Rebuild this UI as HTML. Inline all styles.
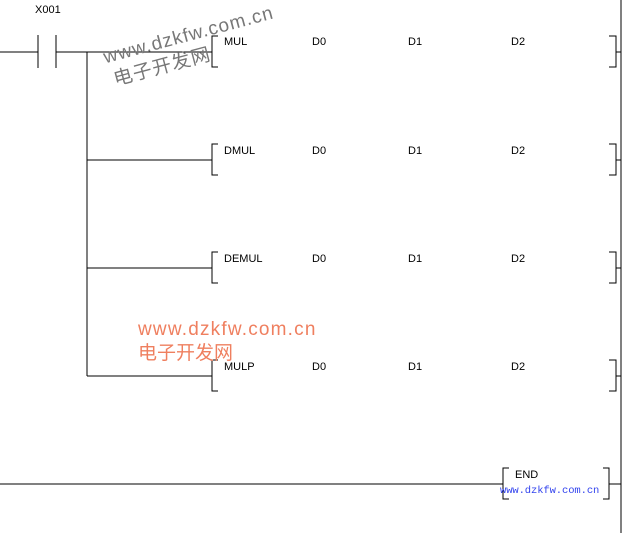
<!DOCTYPE html>
<html><head><style>
body{margin:0;width:622px;height:533px;background:#fff;overflow:hidden;position:relative;font-family:"Liberation Sans",Arial,sans-serif}
.t{position:absolute;font-size:11px;color:#000;line-height:12px}
</style></head><body>
<svg width="622" height="533" style="position:absolute;left:0;top:0" shape-rendering="crispEdges">
<g stroke="#000" stroke-width="1.2" fill="none">
<line x1="621" y1="0" x2="621" y2="533"/>
<line x1="0" y1="52" x2="38" y2="52"/>
<line x1="38" y1="35" x2="38" y2="68"/>
<line x1="56" y1="35" x2="56" y2="68"/>
<line x1="56" y1="52" x2="212" y2="52"/>
<line x1="87" y1="52" x2="87" y2="376"/>
<line x1="87" y1="160" x2="212" y2="160"/>
<line x1="87" y1="268" x2="212" y2="268"/>
<line x1="87" y1="376" x2="212" y2="376"/>
<line x1="0" y1="484" x2="503" y2="484"/>
<polyline points="218,36 212,36 212,67 218,67"/>
<polyline points="218,144 212,144 212,175 218,175"/>
<polyline points="218,252 212,252 212,283 218,283"/>
<polyline points="218,360 212,360 212,391 218,391"/>
<polyline points="509,468 503,468 503,499 509,499"/>
<polyline points="609,36 616,36 616,67 609,67"/><line x1="616" y1="52" x2="621" y2="52"/>
<polyline points="609,144 616,144 616,175 609,175"/><line x1="616" y1="160" x2="621" y2="160"/>
<polyline points="609,252 616,252 616,283 609,283"/><line x1="616" y1="268" x2="621" y2="268"/>
<polyline points="609,360 616,360 616,391 609,391"/><line x1="616" y1="376" x2="621" y2="376"/>
<polyline points="603,468 609,468 609,499 603,499"/><line x1="609" y1="484" x2="621" y2="484"/>
</g></svg>
<div class="t" style="left:35px;top:4px">X001</div>
<div class="t" style="left:224px;top:36px">MUL</div><div class="t" style="left:312px;top:36px">D0</div><div class="t" style="left:408px;top:36px">D1</div><div class="t" style="left:511px;top:36px">D2</div>
<div class="t" style="left:224px;top:145px">DMUL</div><div class="t" style="left:312px;top:145px">D0</div><div class="t" style="left:408px;top:145px">D1</div><div class="t" style="left:511px;top:145px">D2</div>
<div class="t" style="left:224px;top:253px">DEMUL</div><div class="t" style="left:312px;top:253px">D0</div><div class="t" style="left:408px;top:253px">D1</div><div class="t" style="left:511px;top:253px">D2</div>
<div class="t" style="left:224px;top:361px">MULP</div><div class="t" style="left:312px;top:361px">D0</div><div class="t" style="left:408px;top:361px">D1</div><div class="t" style="left:511px;top:361px">D2</div>
<div class="t" style="left:515px;top:469px">END</div>
<div style="position:absolute;left:500px;top:485px;font-family:'Liberation Mono',monospace;font-size:10.5px;color:#3344ee;letter-spacing:-0.1px">www.dzkfw.com.cn</div>
<div style="position:absolute;left:101px;top:47px;transform:rotate(-15deg);transform-origin:0 0;color:#777;font-size:19px;letter-spacing:1px;line-height:24px">www.dzkfw.com.cn<br><span style="font-family:'Liberation Sans','Noto Sans CJK SC',sans-serif;padding-left:4px">电子开发网</span></div>
<div style="position:absolute;left:138px;top:318px;color:#ef7f5f;font-size:19px;letter-spacing:1.2px;line-height:24px">www.dzkfw.com.cn<br><span style="font-family:'Liberation Sans','Noto Sans CJK SC',sans-serif;letter-spacing:0">电子开发网</span></div>
</body></html>
